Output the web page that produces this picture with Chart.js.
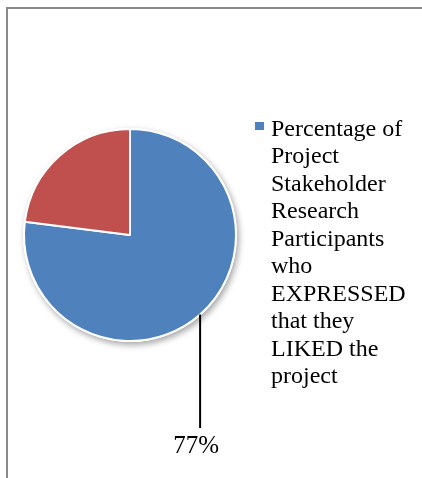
<!DOCTYPE html>
<html lang="en">
<head>
  <meta charset="UTF-8">
  <title>Pie chart</title>
  <style>
    html, body { margin: 0; overflow: hidden; background: #fff; }
    .frame {
      position: absolute; left: 6px; top: 7px; width: 500px; height: 500px;
      border-left: 2px solid #8a8a8a; border-top: 2px solid #8a8a8a;
    }
    #wrap { position: absolute; left: 0; top: 0; width: 422px; height: 478px; }
  </style>
</head>
<body>
  <div class="frame"></div>
  <div id="wrap"><canvas id="myChart" width="422" height="478"></canvas></div>

  <script src="https://cdn.jsdelivr.net/npm/chart.js"></script>
  <script>
    const categories = ['Percentage of Project Stakeholder Research Participants who EXPRESSED that they LIKED the project', ''];
    const values = [77, 23];
    const colors = ['#4F81BD', '#C0504D'];
    // legend text wrapped like the original
    const legendLines = ['Percentage of', 'Project', 'Stakeholder', 'Research', 'Participants',
      'who', 'EXPRESSED', 'that they', 'LIKED the', 'project'];

    const serif = '"Liberation Serif", "Times New Roman", serif';

    // soft shadow under the whole pie
    const pieShadow = {
      id: 'pieShadow',
      beforeDatasetsDraw(chart) {
        const arc = chart.getDatasetMeta(0).data[0];
        const ctx = chart.ctx;
        ctx.save();
        ctx.shadowColor = 'rgba(0,0,0,0.35)';
        ctx.shadowBlur = 6;
        ctx.shadowOffsetX = 2;
        ctx.shadowOffsetY = 3;
        ctx.fillStyle = '#fff';
        ctx.beginPath();
        ctx.arc(arc.x, arc.y, arc.outerRadius + 1, 0, Math.PI * 2);
        ctx.fill();
        ctx.restore();
      }
    };

    // leader line + percent label for the first slice
    const sliceLabel = {
      id: 'sliceLabel',
      afterDatasetsDraw(chart) {
        const arc = chart.getDatasetMeta(0).data[0];
        const ctx = chart.ctx;
        const mid = (arc.startAngle + arc.endAngle) / 2;
        const x0 = arc.x + Math.cos(mid) * arc.outerRadius;
        const y0 = arc.y + Math.sin(mid) * arc.outerRadius;
        const total = values.reduce((a, b) => a + b, 0);
        ctx.save();
        ctx.strokeStyle = '#000';
        ctx.lineWidth = 2;
        ctx.beginPath();
        ctx.moveTo(x0, y0);
        ctx.lineTo(x0, 428);
        ctx.stroke();
        ctx.fillStyle = '#000';
        ctx.font = '25px ' + serif;
        ctx.textAlign = 'center';
        ctx.textBaseline = 'alphabetic';
        ctx.fillText(Math.round(values[0] / total * 100) + '%', x0 - 4, 453);
        ctx.restore();
      }
    };

    // single-entry legend on the right
    const sideLegend = {
      id: 'sideLegend',
      afterDraw(chart) {
        const ctx = chart.ctx;
        ctx.save();
        ctx.fillStyle = colors[0];
        ctx.fillRect(255, 122, 9, 8);
        ctx.fillStyle = '#000';
        ctx.font = '24px ' + serif;
        ctx.textAlign = 'left';
        ctx.textBaseline = 'alphabetic';
        legendLines.forEach((line, i) => {
          ctx.fillText(line, 271, 135.5 + i * 27.55);
        });
        ctx.restore();
      }
    };

    new Chart(document.getElementById('myChart'), {
      type: 'pie',
      data: {
        labels: categories,
        datasets: [{
          data: values,
          backgroundColor: colors,
          borderColor: '#fff',
          borderWidth: 2
        }]
      },
      options: {
        responsive: false,
        animation: false,
        layout: { padding: { left: 23, top: 128, right: 185, bottom: 136 } },
        plugins: {
          legend: { display: false },
          tooltip: { enabled: false }
        }
      },
      plugins: [pieShadow, sliceLabel, sideLegend]
    });
  </script>
</body>
</html>
